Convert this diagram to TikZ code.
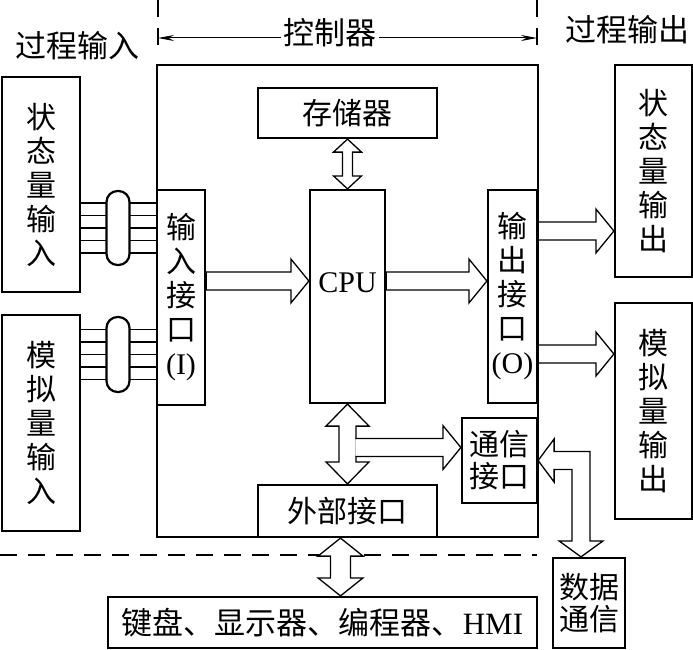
\documentclass[tikz,border=0pt]{standalone}
\usepackage{fontspec}
\setmainfont{Liberation Serif}
\newfontfamily\cjk{Noto Sans CJK SC}
\usepackage{tikz}
\usetikzlibrary{arrows.meta,calc}
\tikzset{
    blk/.style={draw, line width=2.2pt, fill=white, inner sep=0pt, align=center},
    hollow/.style={draw, line width=1.3pt, fill=white},
    wire/.style={line width=1.2pt},
    bundle/.style={draw, line width=2.2pt, fill=white, rounded corners=11pt, minimum width=23pt, minimum height=74pt},
    fence/.style={line width=1.1pt, dash pattern=on 17pt off 11pt},
    headtxt/.style={font=\cjk\fontsize{31}{34}\selectfont},
    fatright/.style={to path={let \p1=(\tikztostart), \p2=(\tikztotarget) in
        (\x1,\y1+9pt) -- (\x2-18pt,\y1+9pt) -- (\x2-18pt,\y1+22pt) -- (\x2,\y1)
        -- (\x2-18pt,\y1-22pt) -- (\x2-18pt,\y1-9pt) -- (\x1,\y1-9pt) -- cycle}},
    fatopen/.style={to path={let \p1=(\tikztostart), \p2=(\tikztotarget) in
        (\x1,\y1+9pt) -- (\x2-18pt,\y1+9pt) -- (\x2-18pt,\y1+22pt) -- (\x2,\y1)
        -- (\x2-18pt,\y1-22pt) -- (\x2-18pt,\y1-9pt) -- (\x1,\y1-9pt)}},
    fatud/.style n args={3}{to path={let \p1=(\tikztostart), \p2=(\tikztotarget) in
        (\x1,\y1) -- (\x1+#2pt,\y1-#3pt) -- (\x1+#1pt,\y1-#3pt) -- (\x1+#1pt,\y2+#3pt)
        -- (\x1+#2pt,\y2+#3pt) -- (\x1,\y2) -- (\x1-#2pt,\y2+#3pt) -- (\x1-#1pt,\y2+#3pt)
        -- (\x1-#1pt,\y1-#3pt) -- (\x1-#2pt,\y1-#3pt) -- cycle}}
}

\begin{document}
\begin{tikzpicture}
  [
    x                 = 1pt,
    y                 = -1pt,
    every node/.style = {font=\cjk\fontsize{30}{34}\selectfont},
  ]
  \useasboundingbox (0,0) rectangle (693,650);
  \draw[fence] (158,0) -- (158,50);
  \draw[fence] (537,0) -- (537,48);
  \draw[fence] (0,555) -- (537,555);
  \draw[line width=1.1pt] (157,65) rectangle (538,537);

  \node[headtxt] (pin) at (78,46) {过程输入};
  \node[headtxt] (pout) at (627,30) {过程输出};
  \node[headtxt, inner sep=2pt] (ctl) at (330,33) {控制器};
  \coordinate (fl) at (158,38);
  \coordinate (fr) at (537,38);
  \draw[line width=1pt, -{Stealth[length=16pt,width=6pt]}] (ctl.west |- fl) -- (fl);
  \draw[line width=1pt, -{Stealth[length=16pt,width=6pt]}] (ctl.east |- fr) -- (fr);

  \node[blk, minimum width=78pt, minimum height=215pt] (stin) at (41,184.5) {状\\态\\量\\输\\入};
  \node[blk, minimum width=78pt, minimum height=216pt] (anin) at (41,423) {模\\拟\\量\\输\\入};
  \node[blk, minimum width=48pt, minimum height=215pt] (inI) at (181,297.5) {输\\入\\接\\口\\{\rmfamily (I)}};
  \node[blk, minimum width=49pt, minimum height=213pt] (outI) at (512.5,296.5) {输\\出\\接\\口\\{\rmfamily (O)}};
  \node[blk, minimum width=179pt, minimum height=50pt] (stor) at (347.5,113) {存储器};
  \node[blk, minimum width=75pt, minimum height=213pt, text depth=27pt] (CPU) at (347.5,296.5) {\rmfamily CPU};
  \node[blk, minimum width=179pt, minimum height=52pt] (ext) at (347.5,511) {外部接口};
  \node[blk, minimum width=75pt, minimum height=85pt, font=\cjk\fontsize{30}{32}\selectfont] (comm) at (499.5,460.5) {通信\\接口};
  \node[blk, minimum width=77pt, minimum height=212pt] (stout) at (653.5,171) {状\\态\\量\\输\\出};
  \node[blk, minimum width=77pt, minimum height=216pt] (anout) at (653.5,411) {模\\拟\\量\\输\\出};
  \node[blk, minimum width=429pt, minimum height=51pt, font=\cjk\fontsize{31}{34}\selectfont] (kbd) at (322.5,622.5) {键盘、显示器、编程器、{\rmfamily HMI}};
  \node[blk, minimum width=72pt, minimum height=90pt, font=\cjk\fontsize{30}{32}\selectfont] (data) at (589,603) {数据\\通信};

  \foreach \d in {-25,-12.5,0,12.5,25} {
    \draw[wire] ($(stin.east |- 0,228)+(0,\d)$) -- ($(inI.west |- 0,228)+(0,\d)$);
    \draw[wire] ($(anin.east |- 0,354.5)+(0,\d)$) -- ($(inI.west |- 0,354.5)+(0,\d)$);
  }
  \node[bundle] (bnd1) at (118,228) {};
  \node[bundle, minimum height=75pt] (bnd2) at (118,354.5) {};

  \draw[hollow] (inI.east |- 0,281) to[fatright] (CPU.west);
  \draw[hollow] (CPU.east |- 0,281) to[fatright] (outI.west);
  \draw[hollow] (outI.east |- 0,231) to[fatright] (stout.west);
  \draw[hollow] (outI.east |- 0,354) to[fatright] (anout.west);
  \draw[hollow] (stor.south) to[fatud={5}{14}{13}] (CPU.north);
  \draw[hollow] (CPU.south) to[fatud={8.5}{21.5}{22}] (ext.north);
  \coordinate (bus) at (355.4,447.5);
  \draw[hollow] (bus) to[fatopen] (comm.west);
  \draw[hollow] (ext.south -| 340.5,0) to[fatud={10}{22.5}{18}] (kbd.north);
  \draw[hollow] let \p1=(comm.east), \p2=(data.north) in
    (\x1,\y1) -- (\x1+16pt,\y1+21.5pt) -- (\x1+16pt,\y1+9pt) -- (\x2+1pt,\y1+9pt)
    -- (\x2+1pt,\y2+16pt) -- (\x2+14pt,\y2+16pt) -- (\x2-8pt,\y2) -- (\x2-30pt,\y2+16pt)
    -- (\x2-17pt,\y2+16pt) -- (\x2-17pt,\y1-9pt) -- (\x1+16pt,\y1-9pt) -- (\x1+16pt,\y1-21.5pt) -- cycle;
\end{tikzpicture}
\end{document}
